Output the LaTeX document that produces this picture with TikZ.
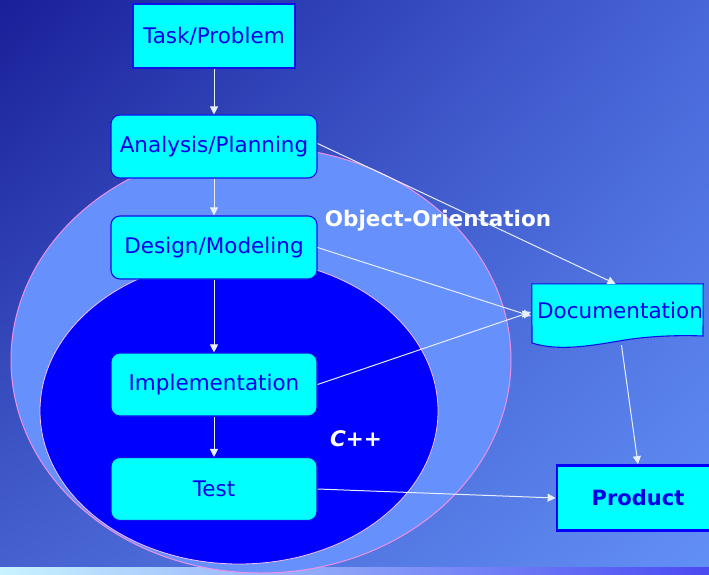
\documentclass[tikz,border=0pt]{standalone}
\usepackage{fontspec}
\setmainfont{DejaVu Sans}
\usetikzlibrary{arrows.meta,calc,shadings}
\definecolor{bgUL}{HTML}{191F98}
\definecolor{bgUR}{HTML}{4866D8}
\definecolor{bgLL}{HTML}{4662D0}
\definecolor{bgLR}{HTML}{6290F6}
\definecolor{outerfill}{HTML}{6690FC}
\definecolor{innerfill}{HTML}{0000FF}
\definecolor{pinkline}{HTML}{F090E8}
\definecolor{boxfill}{HTML}{00FFFF}
\definecolor{boxline}{HTML}{1010E8}
\definecolor{boxtext}{HTML}{0000E6}
\definecolor{arrowcol}{HTML}{E6EEFF}
\definecolor{stripL}{HTML}{C8F4FF}
\definecolor{stripR}{HTML}{4A4AF2}
\tikzset{
  basebox/.style={fill=boxfill, draw=boxline, line width=1.1pt, text=boxtext,
    font=\fontsize{21.5}{24}\selectfont, inner sep=0pt, align=center},
  plainbox/.style={basebox, rectangle},
  roundbox/.style={basebox, rectangle, rounded corners=9pt},
  flowarrow/.style={draw=arrowcol, line width=1pt, -{Triangle[width=8pt,length=8pt]}},
  whitelabel/.style={text=white, font=\fontsize{21.5}{24}\selectfont\bfseries, inner sep=0pt}
}
\begin{document}
\begin{tikzpicture}[x=1pt,y=-1pt]
\useasboundingbox (0,0) rectangle (709,575);
% background
\shade[upper left=bgUL, upper right=bgUR, lower left=bgLL, lower right=bgLR] (0,0) rectangle (709,575);
\shade[left color=stripL, right color=stripR] (0,567) rectangle (709,575);
% ellipses
\fill[outerfill] (261,360) ellipse [x radius=250, y radius=213];
\draw[pinkline, line width=1pt] (261,360) ellipse [x radius=250, y radius=213];
\fill[innerfill] (239,411) ellipse [x radius=199, y radius=153];
\draw[pinkline!55!white, line width=0.8pt] (239,411) ellipse [x radius=199, y radius=153];
% labels
\node[whitelabel] (oo) at (438,221) {Object-Orientation};
\node[whitelabel, font=\fontsize{21.5}{24}\selectfont\bfseries\itshape] (cpp) at (356,439) {C++};
% boxes
\node[plainbox, minimum width=162pt, minimum height=64pt] (task) at (214,36) {Task/Problem};
\node[roundbox, minimum width=206pt, minimum height=63pt] (analysis) at (214,146.5) {Analysis/Planning};
\node[roundbox, minimum width=206pt, minimum height=63pt] (design) at (214,247.5) {Design/Modeling};
\node[roundbox, minimum width=206pt, minimum height=63pt] (impl) at (214,384.5) {Implementation};
\node[roundbox, minimum width=206pt, minimum height=63pt] (test) at (214,489) {Test};
% documentation (wavy bottom)
\node[inner sep=0pt, minimum width=171pt, minimum height=56pt] (doc) at (617.5,312) {};
\fill[boxfill, draw=boxline, line width=1.1pt]
  (doc.north west) -- (doc.north east) -- (703,336)
  .. controls (680,335) and (650,336) .. (625,340)
  .. controls (595,345) and (560,352) .. (532,343) -- cycle;
\node[text=boxtext, font=\fontsize{21.5}{24}\selectfont, inner sep=0pt] (doctext) at (620,310) {Documentation};
% product
\node[plainbox, draw=innerfill, line width=2.8pt, minimum width=156pt, minimum height=65pt,
  font=\fontsize{21}{24}\selectfont\bfseries] (product) at (635,498) {\hspace*{6pt}Product};
% connectors
\draw[flowarrow] (task) -- (analysis);
\draw[flowarrow] (analysis) -- (design);
\draw[flowarrow] (design) -- (impl);
\draw[flowarrow] (impl) -- (test);
\draw[flowarrow] ($(analysis.east)+(0,-3)$) -- ($(doc.north)+(-2,0)$);
\draw[flowarrow] (design.east) -- ($(doc.west)+(-1,4)$);
\draw[flowarrow] (impl.east) -- ($(doc.west)+(-1,0)$);
\draw[flowarrow] ($(doc.south)+(4,5)$) -- ($(product.north)+(3,0)$);
\draw[flowarrow] (test.east) -- (product.west);
\end{tikzpicture}
\end{document}
